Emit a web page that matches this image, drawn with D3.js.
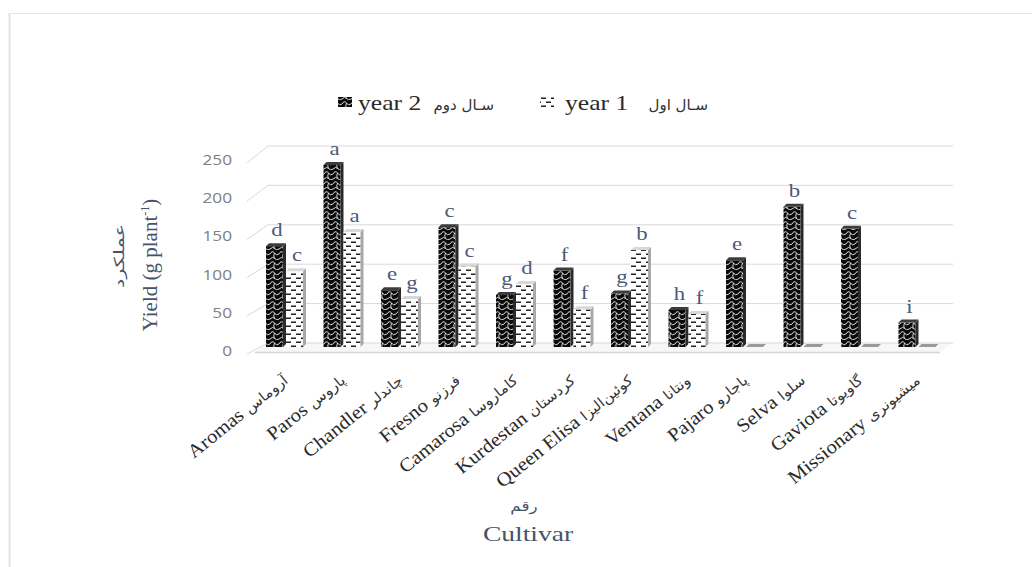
<!DOCTYPE html>
<html><head><meta charset="utf-8">
<script src="https://cdn.jsdelivr.net/npm/d3@7"></script>
<style>body{margin:0;background:#fff}svg{display:block}</style>
</head><body><svg id="c" width="1032" height="567"></svg>
<script>
const categories = ["Aromas","Paros","Chandler","Fresno","Camarosa","Kurdestan","Queen Elisa","Ventana","Pajaro","Selva","Gaviota","Missionary"];
const categoriesFa = ["آروماس","پاروس","چاندلر","فرزنو","کاماروسا","کردستان","کوئین‌الیزا","ونتانا","پاجارو","سلوا","گاویوتا","میشیونری"];
const year2 = [128,231,72,152,66,97,68,47,110,178,150,31];
const year1 = [96,146,61,102,80,48,123,42,0,0,0,0];
const letters2 = ["d","a","e","c","g","f","g","h","e","b","c","i"];
const letters1 = ["c","a","g","c","d","f","b","f","","","",""];
const yTicks = [0,50,100,150,200,250];
const seriesKeys = ["y2","y1"];
const seriesNames = ["year 2","year 1"];
const seriesNamesFa = ["سـال دوم","سـال اول"];

const svg = d3.select("#c");
const serif = "'Liberation Serif','Times New Roman','DejaVu Serif',serif";
const arab = "'DejaVu Sans',sans-serif";
const titleCol = "#44546a";

// frame
svg.append("line").attr("x1",9).attr("x2",1032).attr("y1",13.5).attr("y2",13.5).attr("stroke","#e6e6e6");
svg.append("line").attr("x1",9.5).attr("x2",9.5).attr("y1",13).attr("y2",567).attr("stroke","#e2e2e2").attr("stroke-width",2);

// patterns
const defs = svg.append("defs");
const pb = defs.append("pattern").attr("id","pBlack").attr("patternUnits","userSpaceOnUse").attr("width",9).attr("height",10);
pb.append("rect").attr("width",9).attr("height",10).attr("fill","#0a0a0a");
pb.append("path").attr("d","M0,4 Q2,0 4.5,3 Q6,6 9,4 M0,9 Q3,6 4.5,8.5 Q7,11 9,9 M4.5,3 Q3,6 4.5,8.5")
  .attr("stroke","#f2f2f2").attr("stroke-width",0.9).attr("fill","none");
const pw = defs.append("pattern").attr("id","pWhite").attr("patternUnits","userSpaceOnUse").attr("width",10).attr("height",8);
pw.append("rect").attr("width",10).attr("height",8).attr("fill","#fff");
pw.append("rect").attr("x",1).attr("y",1.5).attr("width",5).attr("height",1.5).attr("fill","#222");
pw.append("rect").attr("x",6).attr("y",5.5).attr("width",5).attr("height",1.5).attr("fill","#222");
pw.append("rect").attr("x",-4).attr("y",5.5).attr("width",5).attr("height",1.5).attr("fill","#222");

// scales
const x = d3.scaleBand().domain(categories).range([257,947]);
const x1 = d3.scaleBand().domain(seriesKeys).range([9,49]);
const y = d3.scaleLinear().domain([0,250]).range([347,150]);
const yBack = d3.scaleLinear().domain([0,250]).range([343,146]);
const yLab = d3.scaleLinear().domain([0,250]).range([351,160]);

// floor
svg.append("polygon").attr("points",`255,352 268,${yBack(0)} 953,${yBack(0)} 940,352`).attr("fill","#f7f7f7");
svg.append("line").attr("x1",255).attr("x2",940).attr("y1",352.5).attr("y2",352.5).attr("stroke","#d6d6d6").attr("stroke-width",1.5);

// gridlines + ticks
const g = svg.append("g");
yTicks.forEach(v=>{
  g.append("line").attr("x1",268).attr("x2",953).attr("y1",yBack(v)).attr("y2",yBack(v)).attr("stroke","#d9d9d9");
  g.append("line").attr("x1",247).attr("y1",yLab(v)+3).attr("x2",268).attr("y2",yBack(v)).attr("stroke","#d9d9d9");
  g.append("text").attr("transform",`translate(232,${yLab(v)+5}) scale(1.15,1)`).attr("text-anchor","end")
    .attr("font-family","'Open Sans',sans-serif").attr("font-size",15).attr("fill","#808080").text(v);
});

// bars
const bw = 17, d = 3;
const bars = svg.append("g");
categories.forEach((c,i)=>{
  const vals = [year2[i], year1[i]];
  const labs = [letters2[i], letters1[i]];
  seriesKeys.forEach((s,j)=>{
    const v = vals[j];
    const x0 = x(c) + x1(s);
    const top = y(v), bot = y(0);
    const black = j===0;
    if (v>0){
      bars.append("rect").attr("x",x0).attr("y",top).attr("width",bw).attr("height",bot-top)
        .attr("fill", black?"url(#pBlack)":"url(#pWhite)");
      bars.append("polygon").attr("points",`${x0+bw},${top} ${x0+bw+d},${top-d} ${x0+bw+d},${bot-d} ${x0+bw},${bot}`)
        .attr("fill", black?"#2a2a2a":"#a8a8a8");
      bars.append("polygon").attr("points",`${x0},${top} ${x0+d},${top-d} ${x0+bw+d},${top-d} ${x0+bw},${top}`)
        .attr("fill", black?"#3c3c3c":"#d8d8d8");
    } else {
      bars.append("polygon").attr("points",`${x0},${bot} ${x0+d},${bot-d} ${x0+bw+d},${bot-d} ${x0+bw},${bot}`)
        .attr("fill","#9a9a9a");
    }
    if (labs[j]){
      bars.append("text").attr("transform",`translate(${x0+11},${top-10}) scale(1.2,1)`).attr("text-anchor","middle")
        .attr("font-family",serif).attr("font-size",19).attr("fill","#4d5a78").text(labs[j]);
    }
  });
  // category label
  const lx = x(c) + x.bandwidth()/2 + 3, ly = 382;
  const t = svg.append("text").attr("transform",`translate(${lx},${ly}) rotate(-39) scale(1.1,1)`).attr("text-anchor","end")
    .attr("font-family",serif).attr("font-size",19).attr("fill","#2a2a2a");
  t.append("tspan").text(c + " ");
  t.append("tspan").attr("font-family",arab).attr("font-size",14).attr("fill","#333").text(categoriesFa[i]);
});

// legend
const lg = svg.append("g").attr("font-family",serif).attr("font-size",21).attr("fill","#2a2a2a");
lg.append("rect").attr("x",338).attr("y",97).attr("width",14).attr("height",10).attr("fill","url(#pBlack)");
lg.append("text").attr("transform","translate(358,110) scale(1.22,1)").text(seriesNames[0]);
lg.append("text").attr("x",494).attr("y",110).attr("text-anchor","end").attr("font-size",15).attr("font-family",arab).attr("fill","#333").text(seriesNamesFa[0]);
lg.append("rect").attr("x",540).attr("y",97).attr("width",14).attr("height",10).attr("fill","url(#pWhite)");
lg.append("text").attr("transform","translate(565,110) scale(1.22,1)").text(seriesNames[1]);
lg.append("text").attr("x",708).attr("y",110).attr("text-anchor","end").attr("font-size",15).attr("font-family",arab).attr("fill","#333").text(seriesNamesFa[1]);

// y titles
const yt = svg.append("text").attr("transform","translate(157,265) rotate(-90)").attr("text-anchor","middle")
  .attr("font-family",serif).attr("font-size",21).attr("fill",titleCol);
yt.append("tspan").text("Yield (g plant");
yt.append("tspan").attr("font-size",12).attr("dy",-8).text("-1");
yt.append("tspan").attr("dy",8).text(")");
svg.append("text").attr("transform","translate(124,256) rotate(-90) scale(1.5,1)").attr("text-anchor","middle")
  .attr("font-family",arab).attr("font-size",14).attr("fill",titleCol).text("عملکرد");

// x titles
svg.append("text").attr("transform","translate(524,511) scale(1.2,1)").attr("text-anchor","middle")
  .attr("font-family",arab).attr("font-size",14).attr("fill",titleCol).text("رقم");
svg.append("text").attr("transform","translate(528,541) scale(1.25,1)").attr("text-anchor","middle")
  .attr("font-family",serif).attr("font-size",22).attr("fill",titleCol).text("Cultivar");
</script></body></html>
